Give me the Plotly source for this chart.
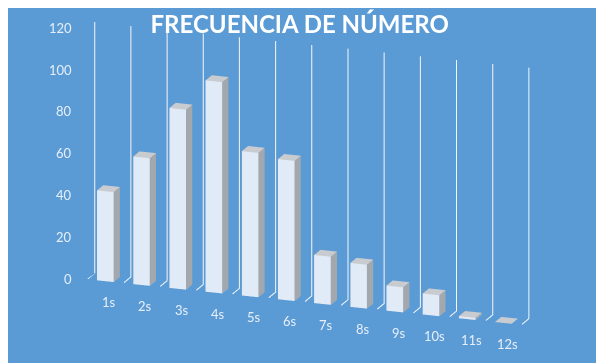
import math
import plotly.graph_objects as go

# ---- data ----
categories = ["1s", "2s", "3s", "4s", "5s", "6s", "7s", "8s", "9s", "10s", "11s", "12s"]
values = [43, 61, 86, 101, 69, 67, 23, 21, 12, 10, 1, 0]
y_ticks = [0, 20, 40, 60, 80, 100, 120]
title_text = "FRECUENCIA DE NÚMERO"

# ---- styling ----
BG = "#5b9bd5"
FRONT = "#e1eaf7"
SIDE = "#a3a8ae"
TOP = "#c8ccd1"
HALF_W = 0.23
Y_FRONT, Y_BACK = 0.25, 0.75
FLOOR_FRONT, FLOOR_BACK = 0.3, 0.85
ZMAX = max(y_ticks)

fig = go.Figure()

# bars as 3-D boxes built from the data values
X, Y, Z, I, J, K, FC = [], [], [], [], [], [], []
for idx, v in enumerate(values):
    c = idx + 1
    x0, x1 = c - HALF_W, c + HALF_W
    b = len(X)
    pts = [(x0, Y_FRONT, 0), (x1, Y_FRONT, 0), (x1, Y_BACK, 0), (x0, Y_BACK, 0),
           (x0, Y_FRONT, v), (x1, Y_FRONT, v), (x1, Y_BACK, v), (x0, Y_BACK, v)]
    for p in pts:
        X.append(p[0]); Y.append(p[1]); Z.append(p[2])
    faces = [((0, 1, 5), FRONT), ((0, 5, 4), FRONT),
             ((1, 2, 6), SIDE), ((1, 6, 5), SIDE),
             ((4, 5, 6), TOP), ((4, 6, 7), TOP),
             ((0, 3, 7), SIDE), ((0, 7, 4), SIDE),
             ((3, 2, 6), SIDE), ((3, 6, 7), SIDE),
             ((0, 1, 2), TOP), ((0, 2, 3), TOP)]
    for (a, bb, cc), col in faces:
        I.append(b + a); J.append(b + bb); K.append(b + cc); FC.append(col)

fig.add_trace(go.Mesh3d(x=X, y=Y, z=Z, i=I, j=J, k=K, facecolor=FC,
                        flatshading=True, hoverinfo="skip", showscale=False,
                        lighting=dict(ambient=1, diffuse=0, specular=0, roughness=1, fresnel=0)))

# category gridlines (floor + back wall)
gx, gy, gz = [], [], []
for bnd in range(len(categories) + 1):
    xb = bnd + 0.5
    gx += [xb, xb, xb, None]
    gy += [FLOOR_FRONT, FLOOR_BACK, FLOOR_BACK, None]
    gz += [0, 0, ZMAX, None]
fig.add_trace(go.Scatter3d(x=gx, y=gy, z=gz, mode="lines",
                           line=dict(color="#f4f7fc", width=2),
                           hoverinfo="skip", showlegend=False))

ann = []
for idx, name in enumerate(categories):
    ann.append(dict(x=idx + 1, y=Y_FRONT, z=0, text=name, showarrow=False,
                    yshift=-21, xshift=4,
                    font=dict(family="Lato", size=13, color="#e6eef9")))
for t in y_ticks:
    ann.append(dict(x=0.5, y=FLOOR_FRONT, z=t, text=str(t), showarrow=False,
                    xanchor="right", xshift=-14,
                    font=dict(family="Lato", size=13, color="#e6eef9")))

a = math.radians(20)
e = math.radians(15)
R = 2.37
eye = dict(x=R * math.sin(a) * math.cos(e), y=-R * math.cos(a) * math.cos(e), z=R * math.sin(e))

fig.update_layout(
    width=604, height=363,
    margin=dict(l=0, r=0, t=0, b=0),
    paper_bgcolor=BG, plot_bgcolor=BG,
    showlegend=False,
    title=dict(text="<b>" + title_text + "</b>", x=0.483, xanchor="center", y=0.955, yanchor="middle",
               font=dict(family="Lato", size=24, color="white")),
    scene=dict(
        domain=dict(x=[0, 1], y=[0, 1]),
        bgcolor=BG,
        xaxis=dict(visible=False, range=[0.5, len(categories) + 0.5]),
        yaxis=dict(visible=False, range=[0, 1]),
        zaxis=dict(visible=False, range=[0, ZMAX]),
        aspectmode="manual",
        aspectratio=dict(x=2.54, y=0.205, z=1.447),
        camera=dict(eye=eye, up=dict(x=0, y=0, z=1), center=dict(x=0.015, y=0, z=-0.088),
                    projection=dict(type="orthographic")),
        annotations=ann,
        dragmode=False,
    ),
)

fig.write_html("out.html")
